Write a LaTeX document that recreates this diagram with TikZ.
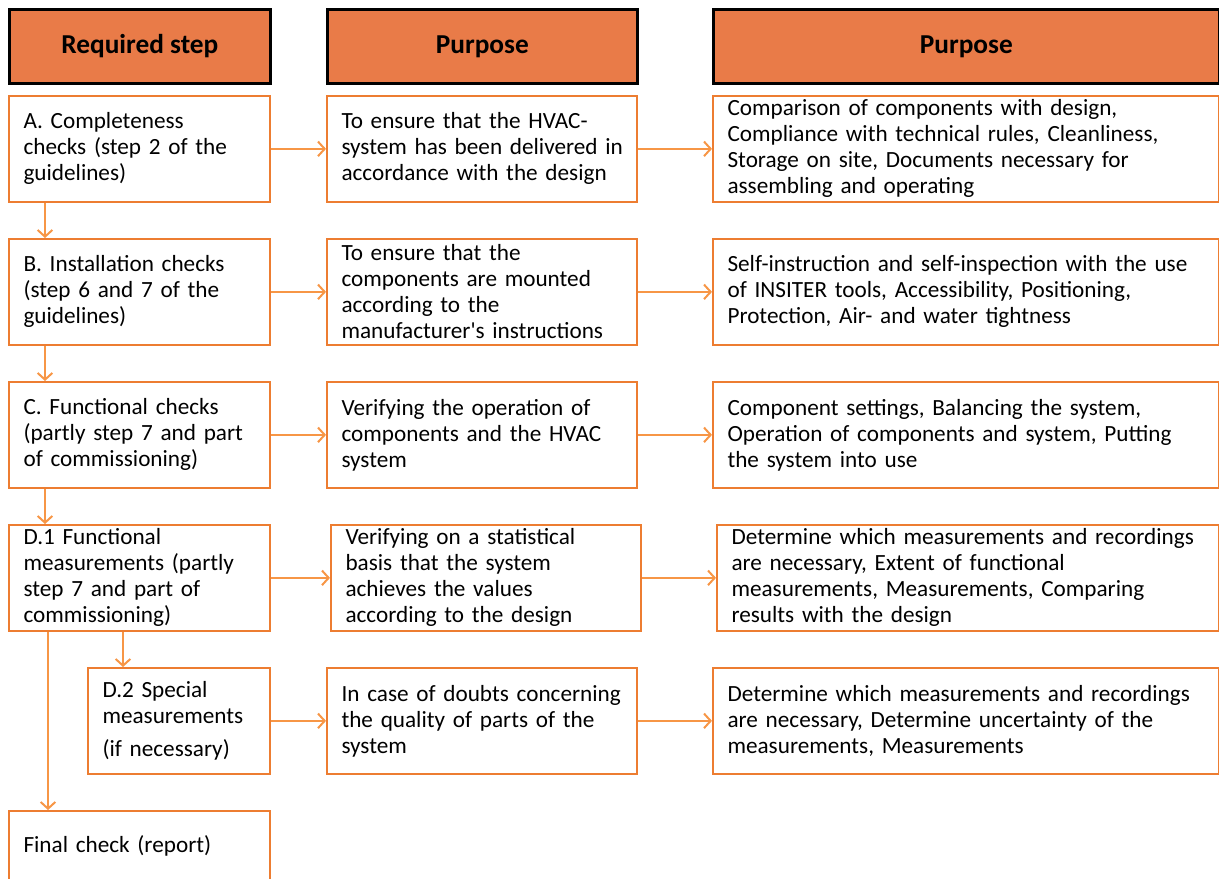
\documentclass[tikz,border=0pt]{standalone}
\usepackage{fontspec}
\setmainfont{Carlito}
\usetikzlibrary{arrows.meta}

\definecolor{hdrfill}{RGB}{233,123,72}
\definecolor{boxline}{RGB}{237,125,49}
\definecolor{arrline}{RGB}{247,150,70}

\tikzset{
  hdr/.style={draw=black, line width=2pt, fill=hdrfill, anchor=north west,
    minimum height=55.5pt, inner sep=0pt, align=center,
    font=\fontsize{20.5}{24}\selectfont\bfseries},
  stepbox/.style={draw=boxline, line width=1.3pt, fill=white, anchor=north west,
    minimum height=79.5pt, inner xsep=11pt, inner ysep=0pt, align=left,
    font=\fontsize{17.4}{19.5}\selectfont},
  flow/.style={draw=arrline, line width=1.5pt, -{Straight Barb[length=5pt,width=11pt]}}
}

\begin{document}
\begin{tikzpicture}[x=0.75pt, y=-0.75pt]
  \useasboundingbox (0,0) rectangle (1219,878);
  \clip (0,0) rectangle (1219,878);

  % Headers
  \node[hdr, minimum width=195.75pt] (hReq) at (8,8) {Required step};
  \node[hdr, minimum width=232.5pt] (hPurp) at (326,8) {Purpose};
  \node[hdr, minimum width=379.5pt] (hPurpTwo) at (712,8) {Purpose};

  % Row A
  \node[stepbox, text width=173.75pt] (a1) at (8,95)
    {A. Completeness\\checks (step 2 of the\\guidelines)};
  \node[stepbox, text width=210.5pt] (a2) at (326,95)
    {To ensure that the HVAC-\\\mbox{system has been delivered in}\\accordance with the design};
  \node[stepbox, text width=357.5pt] (a3) at (712,95)
    {Comparison of components with design,\\Compliance with technical rules, Cleanliness,\\Storage on site, Documents necessary for\\assembling and operating};

  % Row B
  \node[stepbox, text width=173.75pt] (b1) at (8,238)
    {B. Installation checks\\(step 6 and 7 of the\\guidelines)};
  \node[stepbox, text width=210.5pt] (b2) at (326,238)
    {To ensure that the\\components are mounted\\according to the\\manufacturer\textquotesingle s instructions};
  \node[stepbox, text width=357.5pt] (b3) at (712,238)
    {Self-instruction and self-inspection with the use\\of INSITER tools, Accessibility, Positioning,\\Protection, Air- and water tightness};

  % Row C
  \node[stepbox, text width=173.75pt] (c1) at (8,381)
    {C. Functional checks\\(partly step 7 and part\\of commissioning)};
  \node[stepbox, text width=210.5pt] (c2) at (326,381)
    {Verifying the operation of\\components and the HVAC\\system};
  \node[stepbox, text width=357.5pt] (c3) at (712,381)
    {Component settings, Balancing the system,\\Operation of components and system, Putting\\the system into use};

  % Row D.1
  \node[stepbox, text width=173.75pt] (d1) at (8,524)
    {D.1 Functional\\measurements (partly\\step 7 and part of\\commissioning)};
  \node[stepbox, text width=210.5pt] (d2) at (330,524)
    {Verifying on a statistical\\basis that the system\\achieves the values\\according to the design};
  \node[stepbox, text width=354.5pt] (d3) at (716,524)
    {Determine which measurements and recordings\\are necessary, Extent of functional\\measurements, Measurements, Comparing\\results with the design};

  % Row D.2
  \node[stepbox, text width=114.5pt] (e1) at (87,667)
    {D.2 Special\\measurements\\[5pt](if necessary)};
  \node[stepbox, text width=210.5pt] (e2) at (326,667)
    {In case of doubts concerning\\the quality of parts of the\\system};
  \node[stepbox, text width=357.5pt] (e3) at (712,667)
    {Determine which measurements and recordings\\are necessary, Determine uncertainty of the\\measurements, Measurements};

  % Final check
  \node[stepbox, text width=173.75pt, minimum height=72pt] (fin) at (8,810)
    {Final check (report)\\[3.5pt]\mbox{}};

  % Horizontal arrows
  \foreach \r in {a,b,c,d,e} {
    \draw[flow] (\r1.east) -- (\r2.west);
    \draw[flow] (\r2.east) -- (\r3.west);
  }

  % Vertical arrows
  \draw[flow] (a1.south -| 45,0) -- (b1.north -| 45,0);
  \draw[flow] (b1.south -| 45,0) -- (c1.north -| 45,0);
  \draw[flow] (c1.south -| 45,0) -- (d1.north -| 45,0);
  \draw[flow] (d1.south -| 123,0) -- (e1.north -| 123,0);
  \draw[flow] (d1.south -| 48,0) -- (fin.north -| 48,0);
\end{tikzpicture}
\end{document}
